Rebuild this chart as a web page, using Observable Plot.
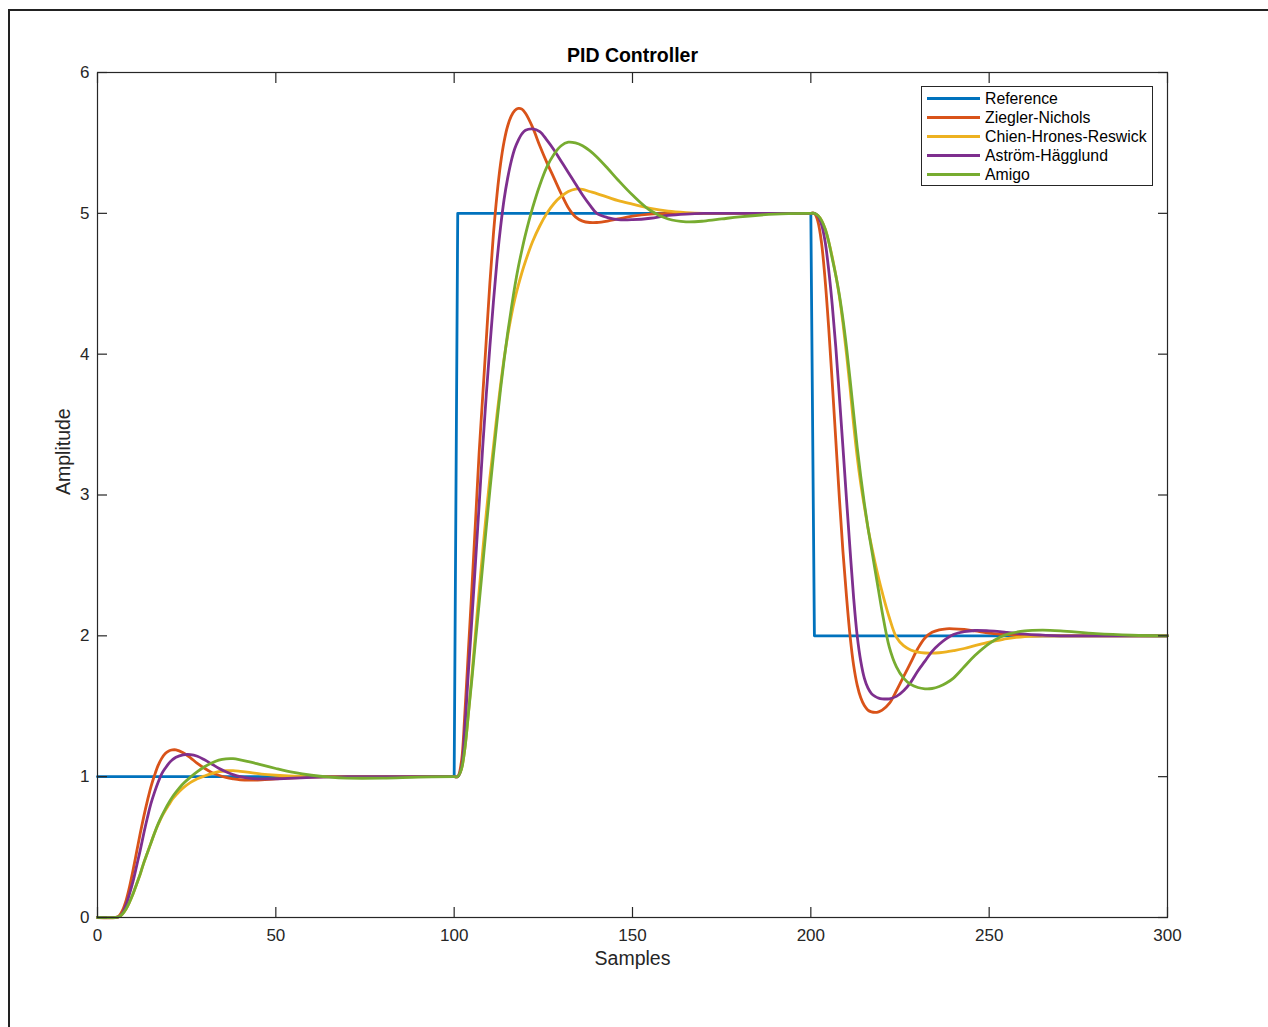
<!DOCTYPE html>
<html><head><meta charset="utf-8">
<script src="https://cdn.jsdelivr.net/npm/d3@7"></script>
<script src="https://cdn.jsdelivr.net/npm/@observablehq/plot@0.6"></script>
<style>
html,body{margin:0;padding:0;background:#fff;overflow:hidden;}
#wrap{position:relative;width:1268px;height:1027px;overflow:hidden;}
#frame{position:absolute;left:8px;top:9px;width:1400px;height:1200px;border-left:2.5px solid #222;border-top:2.5px solid #222;}
#chart{position:absolute;left:0;top:0;}
#legend{position:absolute;left:921px;top:86px;width:230px;height:98px;border:1px solid #262626;background:#fff;font-family:"Liberation Sans",Arial,sans-serif;font-size:15.8px;color:#000;}
.row{position:absolute;left:0;height:19px;display:flex;align-items:center;white-space:nowrap;}
.sw{width:53px;height:3px;margin-left:5px;margin-right:5px;}
</style></head><body>
<div id="wrap"><div id="frame"></div><div id="chart"></div><div id="legend"></div></div>
<script>
const samples = [
  0,5,6,7,8,9,10,11,12,13,14,15,16,17,18,19,20,21,22, 24,26,28,30,32,34,36,38,40, 43,46,50,55,60,65,70,80,90,100,
  101,102,103,104,105,106,107,108,109,110,111,112,113,114,115,116,117,118,119,120, 122,124,126,128,130,132,134,136,138,140, 143,146,150,155,160,165,170,175,180,190,200,
  201,202,203,204,205,206,207,208,209,210,211,212,213,214,215,216,217,218,219,220, 222,224,226,228,230,232,234,236,238,240, 243,246,250,253,255,260,265,270,280,290,300
];
const zieglerNichols = [
  0,0,0.01,0.05,0.12,0.22,0.34,0.47,0.6,0.72,0.83,0.93,1.01,1.08,1.13,1.165,1.183,1.19,1.19, 1.17,1.135,1.095,1.06,1.03,1.01,0.995,0.985,0.978, 0.976,0.978,0.985,0.992,0.997,1,1,1,1,1,
  1,1.1,1.45,1.9,2.35,2.82,3.3,3.7,4.1,4.5,4.85,5.13,5.35,5.51,5.62,5.69,5.73,5.745,5.74,5.71, 5.61,5.48,5.36,5.25,5.14,5.04,4.975,4.945,4.935,4.935, 4.945,4.96,4.98,4.995,5,5,5,5,5,5,5,
  5,4.94,4.79,4.53,4.19,3.8,3.39,2.98,2.6,2.28,2.0,1.79,1.65,1.56,1.505,1.473,1.46,1.456,1.46,1.472, 1.52,1.61,1.71,1.81,1.91,1.985,2.025,2.043,2.05,2.05, 2.045,2.035,2.02,2.012,2.008,2.002,2,2,2,2,2
];
const chienHronesReswick = [
  0,0,0.005,0.025,0.06,0.11,0.17,0.24,0.31,0.39,0.46,0.53,0.6,0.66,0.715,0.76,0.8,0.84,0.87, 0.92,0.958,0.985,1.005,1.022,1.035,1.042,1.043,1.038, 1.028,1.018,1.01,1.004,1.001,1,1,1,1,1,
  1,1.05,1.2,1.45,1.73,2.03,2.32,2.6,2.87,3.12,3.34,3.57,3.78,3.97,4.13,4.27,4.39,4.49,4.58,4.66, 4.8,4.91,5.0,5.07,5.12,5.155,5.172,5.17,5.155,5.14, 5.115,5.09,5.065,5.035,5.015,5.005,5,5,5,5,5,
  5,4.985,4.95,4.89,4.8,4.69,4.56,4.41,4.22,4.0,3.76,3.5,3.27,3.08,2.92,2.77,2.64,2.52,2.41,2.31, 2.13,1.99,1.93,1.9,1.885,1.878,1.877,1.88,1.886,1.895, 1.91,1.93,1.955,1.97,1.98,1.995,2,2,2,2,2
];
const astromHagglund = [
  0,0,0.005,0.03,0.09,0.17,0.26,0.37,0.48,0.6,0.71,0.81,0.89,0.96,1.02,1.06,1.095,1.12,1.138, 1.155,1.157,1.145,1.12,1.09,1.06,1.035,1.015,1.0, 0.988,0.984,0.985,0.99,0.995,0.998,1,1,1,1,
  1,1.06,1.35,1.75,2.13,2.53,2.93,3.34,3.71,4.05,4.37,4.66,4.9,5.1,5.25,5.37,5.46,5.52,5.565,5.59, 5.6,5.58,5.52,5.45,5.37,5.29,5.21,5.13,5.06,5.0, 4.97,4.955,4.955,4.965,4.985,4.995,5,5,5,5,5,
  5,4.98,4.92,4.8,4.6,4.35,4.05,3.7,3.34,2.97,2.61,2.27,2.0,1.82,1.7,1.63,1.59,1.57,1.558,1.553, 1.553,1.57,1.61,1.67,1.75,1.82,1.89,1.94,1.98,2.01, 2.03,2.038,2.035,2.03,2.025,2.012,2.005,2,2,2,2
];
const amigo = [
  0,0,0.005,0.025,0.06,0.11,0.17,0.24,0.31,0.39,0.46,0.53,0.6,0.665,0.72,0.77,0.815,0.855,0.89, 0.95,0.995,1.035,1.07,1.097,1.117,1.127,1.128,1.12, 1.103,1.083,1.058,1.03,1.01,0.997,0.99,0.99,0.997,1,
  1,1.05,1.2,1.45,1.7,1.97,2.23,2.5,2.77,3.03,3.28,3.52,3.75,3.96,4.15,4.32,4.48,4.62,4.74,4.85, 5.04,5.2,5.33,5.42,5.48,5.505,5.5,5.48,5.445,5.4, 5.32,5.235,5.13,5.02,4.96,4.94,4.945,4.96,4.975,4.995,5,
  5,4.985,4.95,4.89,4.8,4.68,4.56,4.42,4.25,4.05,3.82,3.58,3.34,3.13,2.94,2.77,2.62,2.47,2.32,2.17, 1.92,1.78,1.7,1.655,1.633,1.624,1.626,1.64,1.665,1.7, 1.78,1.86,1.945,1.99,2.01,2.035,2.04,2.035,2.015,2.004,2
];
const refSamples = [0,100,101,200,201,300];
const refValues = [1,1,5,5,2,2];
const xTicks = [0,50,100,150,200,250,300];
const yTicks = [0,1,2,3,4,5,6];
const seriesNames = ["Reference","Ziegler-Nichols","Chien-Hrones-Reswick","Aström-Hägglund","Amigo"];
const colors = ["#0072BD","#D95319","#EDB120","#7E2F8E","#77AC30"];

[zieglerNichols, chienHronesReswick, astromHagglund, amigo].forEach((a,i)=>{
  if (a.length !== samples.length) throw new Error("length mismatch series " + i + ": " + a.length + " vs " + samples.length);
});

const refRows = refSamples.map((s,i)=>({s, v: refValues[i]}));
const responses = [
  {name: seriesNames[1], values: zieglerNichols, color: colors[1]},
  {name: seriesNames[2], values: chienHronesReswick, color: colors[2]},
  {name: seriesNames[3], values: astromHagglund, color: colors[3]},
  {name: seriesNames[4], values: amigo, color: colors[4]}
];

const font = "Liberation Sans, Arial, Helvetica, sans-serif";
const axisColor = "#262626";
const lw = 2.8;

const chart = Plot.plot({
  width: 1268, height: 1027,
  marginLeft: 97, marginRight: 101, marginTop: 72, marginBottom: 110,
  x: {domain: [0, 300]},
  y: {domain: [0, 6]},
  style: {fontFamily: font, background: "transparent", overflow: "visible"},
  marks: [
    Plot.line(refRows, {x: "s", y: "v", stroke: colors[0], strokeWidth: lw}),
    ...responses.map(r => Plot.line(samples.map((s,i)=>({s, v: r.values[i]})), {x: "s", y: "v", stroke: r.color, strokeWidth: lw, curve: "catmull-rom"})),
    Plot.frame({stroke: axisColor, strokeWidth: 1.2}),
    Plot.axisX({anchor: "bottom", ticks: xTicks, tickSize: -10, text: null, label: null, stroke: axisColor, strokeWidth: 1.2}),
    Plot.axisX({anchor: "top", ticks: xTicks, tickSize: -10, text: null, label: null, stroke: axisColor, strokeWidth: 1.2}),
    Plot.axisY({anchor: "left", ticks: yTicks, tickSize: -10, text: null, label: null, stroke: axisColor, strokeWidth: 1.2}),
    Plot.axisY({anchor: "right", ticks: yTicks, tickSize: -10, text: null, label: null, stroke: axisColor, strokeWidth: 1.2}),
    Plot.axisX({anchor: "bottom", ticks: xTicks, tickFormat: d => String(d), tickSize: 0, tickPadding: 11, label: null, fontSize: 17, fill: axisColor}),
    Plot.axisY({anchor: "left", ticks: yTicks, tickFormat: d => String(d), tickSize: 0, tickPadding: 8, label: null, fontSize: 17, fill: axisColor}),
    Plot.text(["PID Controller"], {text: d => d, frameAnchor: "top", dy: -17, lineAnchor: "middle", fontSize: 19.5, fontWeight: "bold", fill: "#000"}),
    Plot.text(["Samples"], {text: d => d, frameAnchor: "bottom", dy: 41, lineAnchor: "middle", fontSize: 19.5, fill: axisColor}),
    Plot.text(["Amplitude"], {text: d => d, frameAnchor: "left", dx: -34, rotate: -90, lineAnchor: "middle", fontSize: 19.5, fill: axisColor})
  ]
});
document.getElementById("chart").appendChild(chart);

const legend = document.getElementById("legend");
seriesNames.forEach((name, i) => {
  const row = document.createElement("div");
  row.className = "row";
  row.style.top = (2 + i * 19) + "px";
  const sw = document.createElement("div");
  sw.className = "sw";
  sw.style.background = colors[i];
  const label = document.createElement("span");
  label.textContent = name;
  row.appendChild(sw);
  row.appendChild(label);
  legend.appendChild(row);
});
</script>
</body></html>
